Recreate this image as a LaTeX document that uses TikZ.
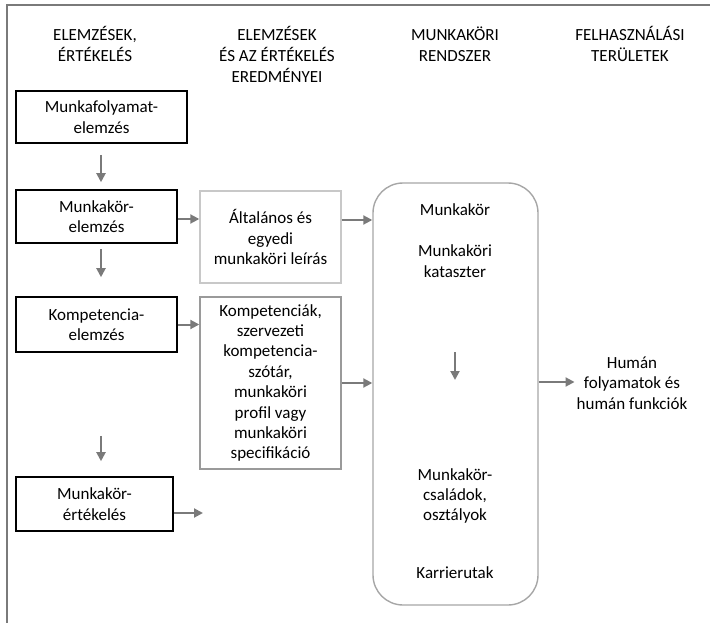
\documentclass[tikz,border=0pt]{standalone}
\usepackage{fontspec}
\setmainfont{Carlito}
\usetikzlibrary{arrows.meta}
\definecolor{linegray}{HTML}{7A7A7A}
\definecolor{lightbox}{HTML}{C8C8C8}
\definecolor{midbox}{HTML}{9A9A9A}
\definecolor{roundbox}{HTML}{A6A6A6}
\begin{document}
\begin{tikzpicture}[x=1pt,y=-1pt,
  every node/.style={font=\fontsize{17}{20.4}\selectfont, align=center, inner sep=0pt},
  stepbox/.style={draw=black, line width=1.6pt, minimum width=#1, minimum height=53pt},
  stepbox/.default=161pt,
  resbox/.style={line width=1.4pt, minimum width=141pt},
  head/.style={font=\fontsize{17}{21}\selectfont},
  arr/.style={draw=linegray, line width=2pt, -{Triangle[length=9pt,width=9pt]}},
  frame/.style={draw=linegray, line width=2pt}]
\useasboundingbox (0,0) rectangle (710,623);

% outer frame (top and left edges only)
\draw[frame] (710,5) -- (7,5) -- (7,623);

% column headings
\node[head] (h1) at (95,44) {ELEMZÉSEK,\\ÉRTÉKELÉS};
\node[head] (h2) at (277,54.5) {ELEMZÉSEK\\ÉS AZ ÉRTÉKELÉS\\EREDMÉNYEI};
\node[head] (h3) at (455,44) {MUNKAKÖRI\\RENDSZER};
\node[head] (h4) at (630,44) {FELHASZNÁLÁSI\\TERÜLETEK};

% analysis steps
\node[stepbox=171pt, minimum height=52pt] (b1) at (101.5,117) {Munkafolyamat-\\elemzés};
\node[stepbox] (b2) at (96.5,216.5) {Munkakör-\\elemzés};
\node[stepbox, minimum height=55pt] (b3) at (96.5,324.5) {Kompetencia-\\elemzés};
\node[stepbox=157pt, minimum height=54pt] (b4) at (94.5,504) {Munkakör-\\értékelés};

% results
\node[resbox, draw=lightbox, minimum height=92pt] (r1) at (270.5,237) {Általános és\\egyedi\\munkaköri leírás};
\node[resbox, draw=midbox, minimum height=172pt] (r2) at (270.5,383) {Kompetenciák,\\szervezeti\\kompetencia-\\szótár,\\munkaköri\\profil vagy\\munkaköri\\specifikáció};

% job system container
\node[draw=roundbox, line width=1.4pt, rounded corners=30pt,
      minimum width=165pt, minimum height=422pt] (sys) at (455.5,394) {};
\node (s1) at (455,210) {Munkakör};
\node (s2) at (455,261) {Munkaköri\\kataszter};
\node (s3) at (455,496) {Munkakör-\\családok,\\osztályok};
\node (s4) at (455,573) {Karrierutak};

% fields of use
\node (use) at (632,383) {Humán\\folyamatok és\\humán funkciók};

% connectors
\coordinate (b4out) at (203,513);
\coordinate (sysarrtop) at (455,352);
\coordinate (sysarrbot) at (455,380);

\draw[arr, shorten <=11pt, shorten >=7pt] (b1.south -| 101,0) -- (b2.north -| 101,0);
\draw[arr, shorten <=5pt, shorten >=19pt] (b2.south -| 101,0) -- (b3.north -| 101,0);
\draw[arr, shorten <=83pt, shorten >=15pt] (b3.south -| 101,0) -- (b4.north -| 101,0);

\draw[arr] (b2.east |- 0,219) -- (r1.west |- 0,219);
\draw[arr] (b3.east) -- (b3.east -| r2.west);
\draw[arr] (b4.east |- b4out) -- (b4out);

\draw[arr] (r1.east |- 0,220) -- (sys.west |- 0,220);
\draw[arr] (r2.east) -- (r2.east -| sys.west);

\draw[arr] (sysarrtop) -- (sysarrbot);
\draw[arr, shorten >=2pt] (sys.east |- 0,382) -- (use.west |- 0,382);
\end{tikzpicture}
\end{document}
